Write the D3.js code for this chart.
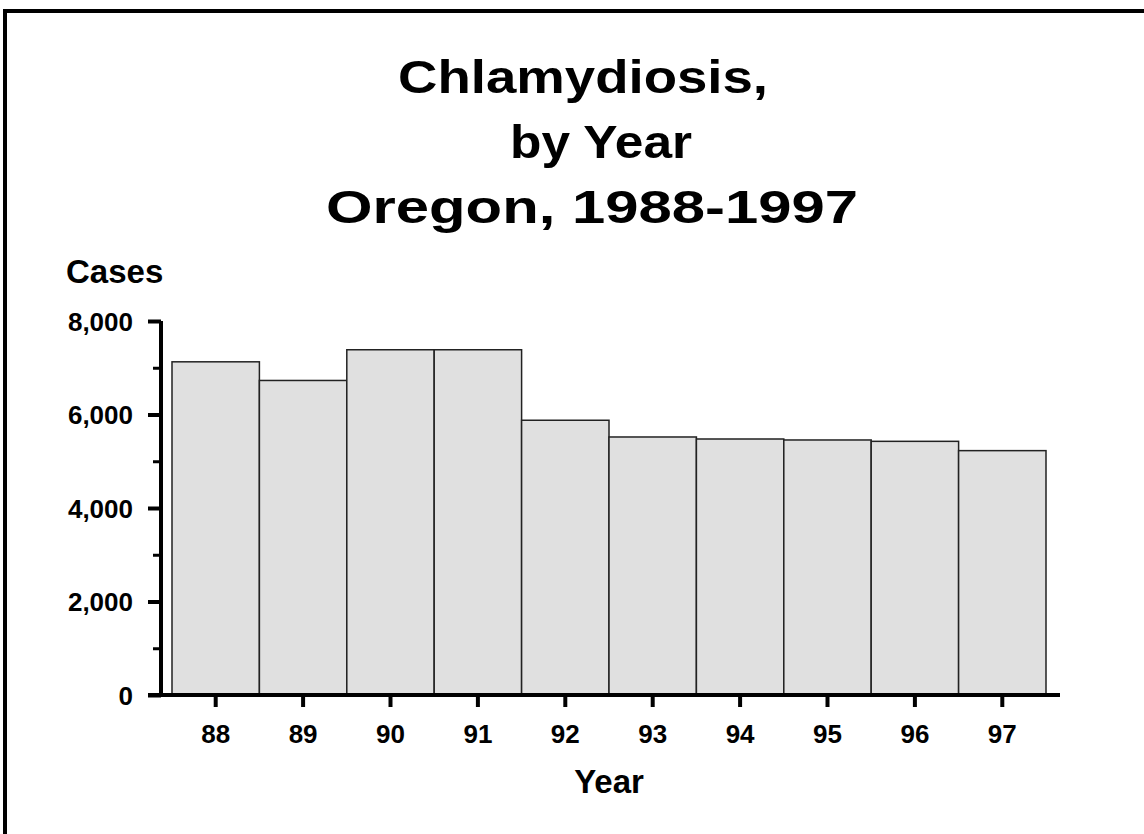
<!DOCTYPE html>
<html><head><meta charset="utf-8">
<script src="https://cdn.jsdelivr.net/npm/d3@7"></script>
<style>body{margin:0;background:#fff}svg{display:block}text{font-family:"Liberation Sans",Arial,sans-serif;font-weight:bold;fill:#000}</style>
</head><body><svg id="c" width="1144" height="834"></svg>
<script>
const years = ["88","89","90","91","92","93","94","95","96","97"];
const cases = [7127, 6728, 7385, 7385, 5877, 5519, 5476, 5455, 5426, 5227];
const majorTicks = [0, 2000, 4000, 6000, 8000];
const minorTicks = [1000, 3000, 5000, 7000];
const titleLines = ["Chlamydiosis,", "by Year", "Oregon, 1988-1997"];

const svg = d3.select("#c");
svg.append("rect").attr("x",5).attr("y",11).attr("width",1300).attr("height",1000)
  .attr("fill","none").attr("stroke","#000").attr("stroke-width",4);

const x = d3.scaleBand().domain(years).range([172,1046]).padding(0);
const y = d3.scaleLinear().domain([0,8000]).range([695,321]);

// title
const tx = [583, 601, 592];
const tw = [370, 182, 532];
titleLines.forEach((t,i)=>{
  svg.append("text").attr("x",tx[i]).attr("y",93+65*i).attr("text-anchor","middle")
    .attr("font-size",47).attr("textLength",tw[i]).attr("lengthAdjust","spacingAndGlyphs").text(t);
});

// bars
svg.selectAll("rect.bar").data(cases).join("rect").attr("class","bar")
  .attr("x",(d,i)=>x(years[i])).attr("width",x.bandwidth())
  .attr("y",d=>y(d)).attr("height",d=>y(0)-y(d))
  .attr("fill","#e0e0e0").attr("stroke","#222").attr("stroke-width",1.5);

// y axis
const ya = d3.axisLeft(y).tickValues(majorTicks).tickSize(13).tickSizeOuter(0).tickFormat(d3.format(","));
const yg = svg.append("g").attr("transform","translate(161,0)").call(ya);
yg.select(".domain").attr("stroke-width",4).attr("d","M0,"+y(8000)+"V"+(y(0)+2));
yg.selectAll(".tick line").attr("stroke-width",4);
yg.selectAll(".tick text").attr("font-size",26).attr("font-family","Liberation Sans, Arial").attr("font-weight","bold").attr("x",-28).attr("dy","0.36em");
const ym = d3.axisLeft(y).tickValues(minorTicks).tickSize(8).tickFormat("");
const ymg = svg.append("g").attr("transform","translate(161,0)").call(ym);
ymg.select(".domain").remove();
ymg.selectAll(".tick line").attr("stroke-width",3);

// x axis
const xa = d3.axisBottom(x).tickSize(12).tickSizeOuter(0);
const xg = svg.append("g").attr("transform","translate(0,695)").call(xa);
xg.select(".domain").attr("stroke-width",4).attr("d","M148,0H1060");
xg.selectAll(".tick line").attr("stroke-width",4);
xg.selectAll(".tick text").attr("font-size",26).attr("font-family","Liberation Sans, Arial").attr("font-weight","bold").attr("y",48).attr("dy",0);

svg.append("text").attr("x",66).attr("y",283).attr("font-size",33).text("Cases");
svg.append("text").attr("x",609).attr("y",793).attr("text-anchor","middle").attr("font-size",33).text("Year");
</script></body></html>
